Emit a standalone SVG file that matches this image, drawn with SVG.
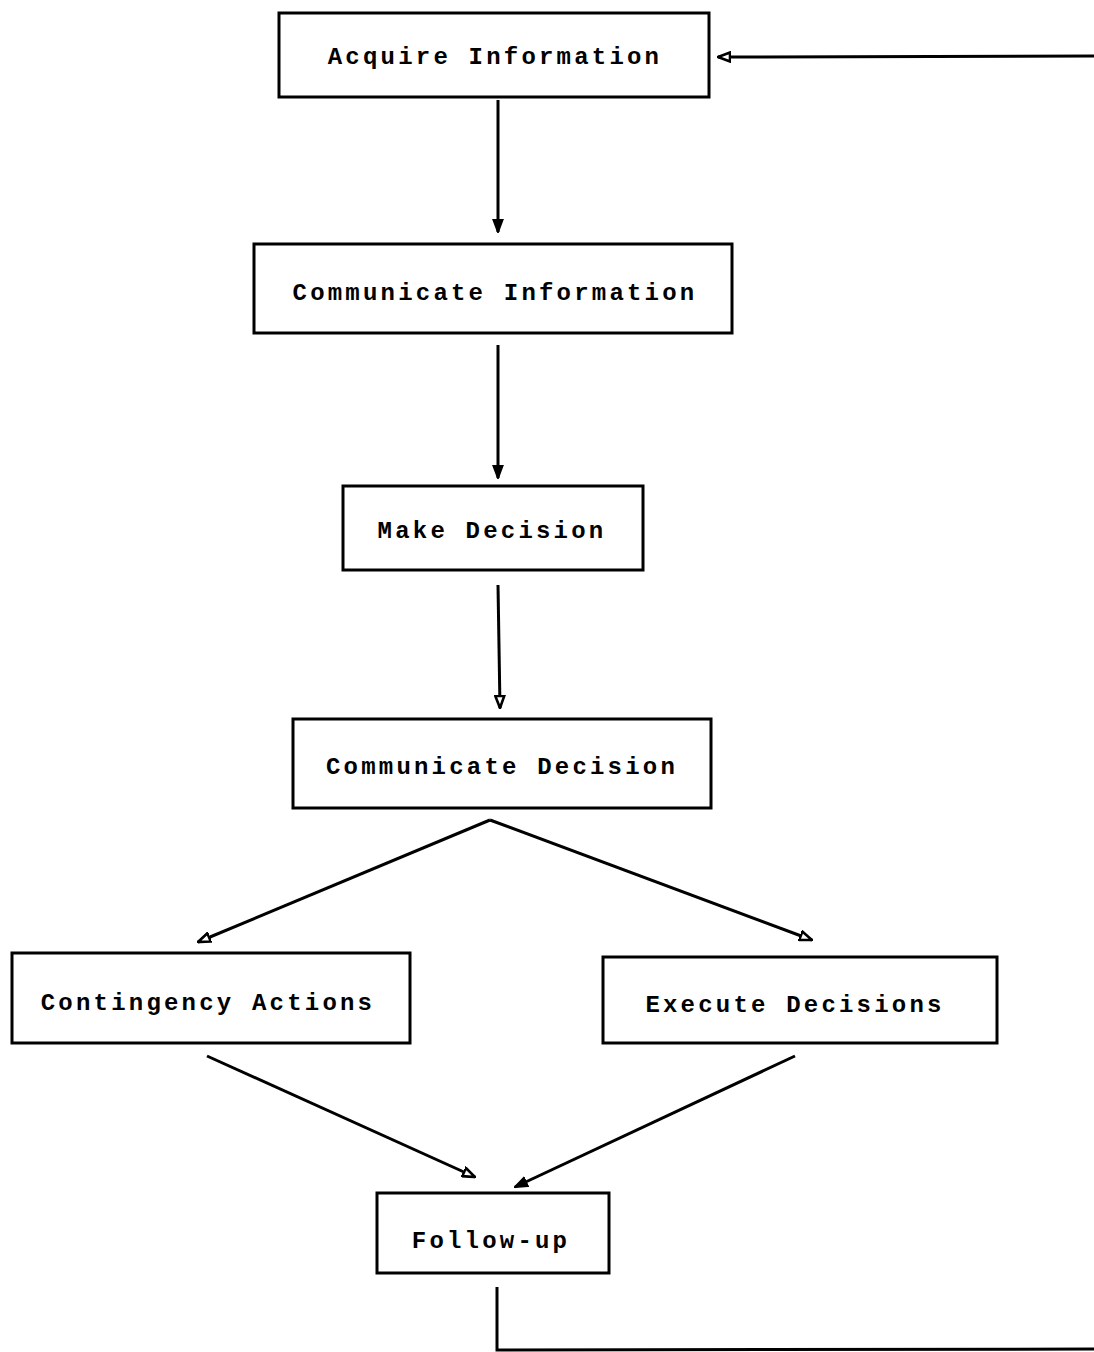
<svg xmlns="http://www.w3.org/2000/svg" width="1094" height="1352" viewBox="0 0 1094 1352">
<style>
.box{fill:none;stroke:#000;stroke-width:3}
.lbl{font-family:"Liberation Mono","DejaVu Sans Mono",monospace;font-weight:bold;font-size:24px;letter-spacing:3.2px;text-anchor:middle;fill:#000}
.ln{stroke:#000;stroke-width:3;fill:none}
</style>
<defs>
<marker id="ah" viewBox="0 0 14 12" refX="13" refY="6" markerWidth="14" markerHeight="12" markerUnits="userSpaceOnUse" orient="auto">
<path d="M1,1.5 L13,6 L1,10.5 Z" fill="#fff" stroke="#000" stroke-width="2.6"/>
</marker>
<marker id="ahf" viewBox="0 0 14 12" refX="13" refY="6" markerWidth="14" markerHeight="12" markerUnits="userSpaceOnUse" orient="auto">
<path d="M1,1.5 L13,6 L1,10.5 Z" fill="#000" stroke="#000" stroke-width="2"/>
</marker>
</defs>
<rect width="1094" height="1352" fill="#fff"/>
<g id="connectors">
<line class="ln" x1="1094" y1="56" x2="718" y2="57" marker-end="url(#ah)"/>
<line class="ln" x1="498" y1="100" x2="498" y2="232" marker-end="url(#ahf)"/>
<line class="ln" x1="498" y1="345" x2="498" y2="478" marker-end="url(#ahf)"/>
<line class="ln" x1="498" y1="585" x2="500" y2="708" marker-end="url(#ah)"/>
<line class="ln" x1="490" y1="820" x2="198" y2="942" marker-end="url(#ah)"/>
<line class="ln" x1="490" y1="820" x2="812" y2="940" marker-end="url(#ah)"/>
<line class="ln" x1="207" y1="1056" x2="475" y2="1177" marker-end="url(#ah)"/>
<line class="ln" x1="795" y1="1056" x2="515" y2="1187" marker-end="url(#ahf)"/>
<polyline class="ln" points="497,1287 497,1350 1094,1349"/>
</g>
<g id="acquire"><rect class="box" x="279" y="13" width="430" height="84"/><text class="lbl" x="495" y="64">Acquire Information</text></g>
<g id="comm-info"><rect class="box" x="254" y="244" width="478" height="89"/><text class="lbl" x="495" y="300">Communicate Information</text></g>
<g id="make-decision"><rect class="box" x="343" y="486" width="300" height="84"/><text class="lbl" x="492" y="538">Make Decision</text></g>
<g id="comm-decision"><rect class="box" x="293" y="719" width="418" height="89"/><text class="lbl" x="502" y="774">Communicate Decision</text></g>
<g id="contingency"><rect class="box" x="12" y="953" width="398" height="90"/><text class="lbl" x="208" y="1010">Contingency Actions</text></g>
<g id="execute"><rect class="box" x="603" y="957" width="394" height="86"/><text class="lbl" x="795" y="1012">Execute Decisions</text></g>
<g id="followup"><rect class="box" x="377" y="1193" width="232" height="80"/><text class="lbl" x="491" y="1248">Follow-up</text></g>
</svg>
